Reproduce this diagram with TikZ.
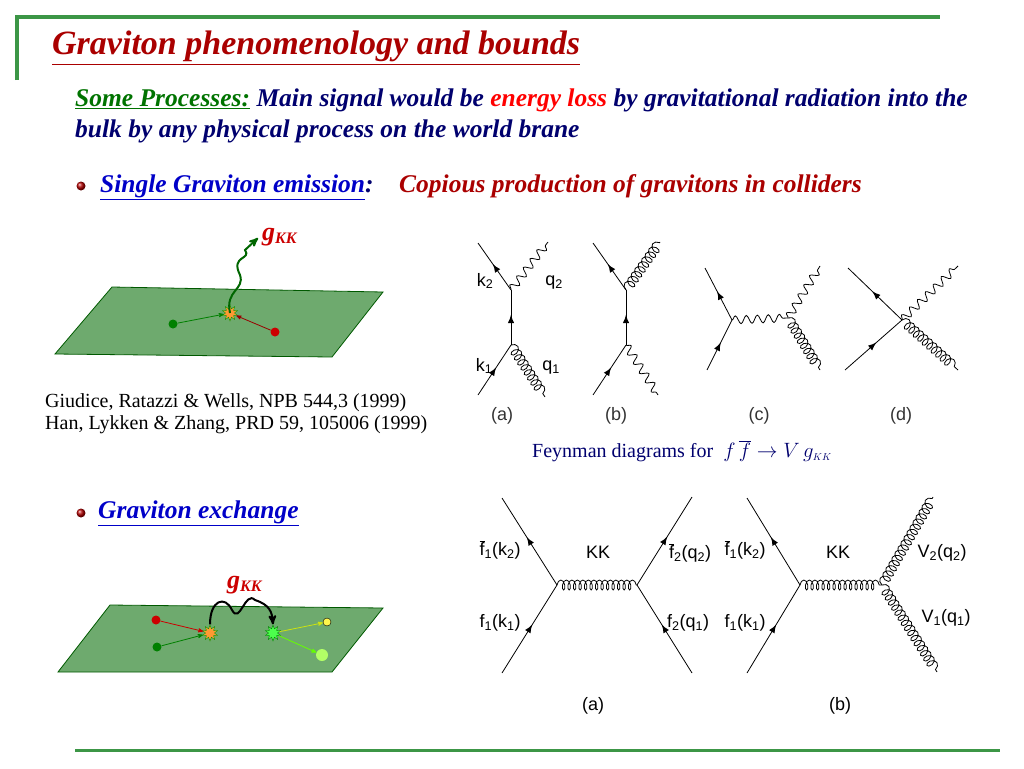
\documentclass[tikz,border=0pt]{standalone}
\usepackage{fontspec}
\setmainfont{Liberation Serif}
\setsansfont{Liberation Sans}
\usetikzlibrary{arrows,shapes.geometric,decorations.pathmorphing,decorations.markings}
\definecolor{titlered}{RGB}{170,0,0}
\definecolor{navy}{RGB}{0,0,110}
\definecolor{framegreen}{RGB}{60,150,70}
\definecolor{branegreen}{RGB}{110,170,110}
\definecolor{linkblue}{RGB}{0,0,200}
\newcommand{\ul}[1]{\underline{#1}}
\newcommand{\sub}[1]{\textsubscript{#1}}

\begin{document}
\begin{tikzpicture}[x=1pt,y=-1pt,
  every node/.style={inner sep=0pt,anchor=base west},
  body/.style={font=\fontsize{25.5}{30}\selectfont\bfseries\itshape,text=navy},
  fermion/.style={thick,postaction={decorate},decoration={markings,mark=at position .55 with {\arrow[scale=1.6]{latex}}}},
  photon/.style={thick,decorate,decoration={snake,amplitude=4pt,segment length=11pt}},
  gluon/.style={thick,decorate,decoration={coil,aspect=.7,amplitude=5pt,segment length=6pt}},
  kk/.style={thick,decorate,decoration={coil,aspect=.5,amplitude=5pt,segment length=5.5pt}},
  flabel/.style={font=\sffamily\fontsize{18}{20}\selectfont,anchor=center},
  brane/.style={draw=green!35!black,fill=branegreen,thick},
  burst/.style={star,star points=10,star point ratio=1.8,minimum size=16pt,anchor=center},
  dot/.style={circle,minimum size=9pt,anchor=center},
  tobrane/.style={->,>=stealth',thick}]

  \useasboundingbox (0,0) rectangle (1024,768);

  % frame lines
  \draw[framegreen,line width=4pt] (17,80) -- (17,17) -- (940,17);
  \draw[framegreen,line width=3pt] (75,750) -- (1000,750);

  % title and text
  \node[font=\fontsize{34}{38}\selectfont\bfseries\itshape,text=titlered] (title) at (52,55) {\ul{Graviton phenomenology and bounds}};
  \node[body] (line1) at (75,106) {\textcolor{green!45!black}{\ul{Some Processes:}} Main signal would be \textcolor{red}{energy loss} by gravitational radiation into the};
  \node[body] (line2) at (75,137) {bulk by any physical process on the world brane};
  \node[ball color=red!70!black,circle,minimum size=9pt,anchor=center] (b1) at (81,186) {};
  \node[body] (single) at (100,192) {\textcolor{linkblue}{\ul{Single Graviton emission}}:\quad\textcolor{titlered}{Copious production of gravitons in colliders}};
  \node[ball color=red!70!black,circle,minimum size=9pt,anchor=center] (b2) at (81,513) {};
  \node[body] (exch) at (98,518) {\textcolor{linkblue}{\ul{Graviton exchange}}};
  \node[font=\fontsize{20}{22}\selectfont] (ref1) at (45,407) {Giudice, Ratazzi \& Wells, NPB 544,3 (1999)};
  \node[font=\fontsize{20}{22}\selectfont] (ref2) at (45,429) {Han, Lykken \& Zhang, PRD 59, 105006 (1999)};

  % brane: single emission
  \draw[brane] (112,287) -- (383,292) -- (332,357) -- (55,354) -- cycle;
  \node[dot,fill=green!50!black] (s1) at (173,324) {};
  \node[dot,fill=red!80!black] (s2) at (275,332) {};
  \node[burst,fill=orange!80,draw=green!60!black] (v1) at (230,313) {};
  \draw[tobrane,green!50!black] (s1) -- (v1);
  \draw[tobrane,red!60!black] (s2) -- (v1);
  \coordinate (g1) at (258,238);
  \draw[tobrane,green!40!black,line width=2pt] (v1.center) .. controls (225,290) and (245,290) .. (240,275) .. controls (230,255) and (252,260) .. (245,250) -- (g1);
  \node[font=\fontsize{26}{28}\selectfont\bfseries\itshape,text=red!80!black] (gkk1) at (262,240) {g\raisebox{-3pt}{\fontsize{16}{16}\selectfont KK}};

  % brane: exchange
  \draw[brane] (110,605) -- (383,608) -- (332,672) -- (58,672) -- cycle;
  \node[dot,fill=red!80!black] (e1) at (156,620) {};
  \node[dot,fill=green!50!black] (e2) at (157,647) {};
  \node[burst,fill=orange!80,draw=green!60!black] (v2) at (210,633) {};
  \node[burst,fill=green!70!white,draw=green!50!black] (v3) at (273,633) {};
  \node[dot,fill=yellow!70,draw=black,minimum size=8pt] (e3) at (327,622) {};
  \node[dot,fill=green!50!yellow!60,minimum size=12pt] (e4) at (322,655) {};
  \draw[tobrane,red!80!black] (e1) -- (v2);
  \draw[tobrane,green!50!black] (e2) -- (v2);
  \draw[tobrane,yellow!80!green] (v3) -- (e3);
  \draw[tobrane,green!60!yellow] (v3) -- (e4);
  \draw[tobrane,black,line width=2pt] (v2.north) .. controls (210,600) and (225,595) .. (232,610) .. controls (240,625) and (245,590) .. (255,600) .. controls (270,605) and (272,612) .. (v3.north);
  \node[font=\fontsize{26}{28}\selectfont\bfseries\itshape,text=red!80!black] (gkk2) at (227,588) {g\raisebox{-3pt}{\fontsize{16}{16}\selectfont KK}};

  % Feynman diagrams, top row
  \foreach \dx/\tag in {0/a,115/b} {
    \coordinate (lo\tag) at (511+\dx,345);
    \coordinate (hi\tag) at (511+\dx,290);
    \coordinate (in\tag) at (478+\dx,395);
    \coordinate (out\tag) at (478+\dx,243);
    \draw[fermion] (in\tag) -- (lo\tag);
    \draw[fermion] (lo\tag) -- (hi\tag);
    \draw[fermion] (hi\tag) -- (out\tag);
  }
  \draw[photon] (hia) -- (548,242);
  \draw[gluon] (loa) -- (545,397);
  \draw[gluon] (hib) -- (660,242);
  \draw[photon] (lob) -- (658,395);
  \node[flabel] (k2) at (485,281) {k\sub{2}};
  \node[flabel] (q2) at (554,283) {q\sub{2}};
  \node[flabel] (k1) at (484,366) {k\sub{1}};
  \node[flabel] (q1) at (551,368) {q\sub{1}};

  \coordinate (vc1) at (732,320);
  \coordinate (vc2) at (788,318);
  \draw[fermion] (707,370) -- (vc1);
  \draw[fermion] (vc1) -- (705,268);
  \draw[photon] (vc1) -- (vc2);
  \draw[photon] (vc2) -- (820,266);
  \draw[gluon] (vc2) -- (820,370);

  \coordinate (vd) at (902,320);
  \draw[fermion] (845,370) -- (vd);
  \draw[fermion] (vd) -- (848,268);
  \draw[photon] (vd) -- (958,266);
  \draw[gluon] (vd) -- (958,370);

  \foreach \x/\tag in {502/a,616/b,759/c,901/d}
    \node[flabel,text=black!80] (cap\tag) at (\x,416) {(\tag)};
  \node[font=\fontsize{20}{22}\selectfont,text=navy] (fcap) at (532,457) {Feynman diagrams for \ $f\,\overline{f}\rightarrow V\,g_{\scriptscriptstyle KK}$};

  % Feynman diagrams, bottom row
  \coordinate (va) at (557,585);
  \coordinate (vb) at (637,585);
  \draw[fermion] (502,673) -- (va);
  \draw[fermion] (va) -- (502,498);
  \draw[kk] (va) -- (vb);
  \draw[fermion] (vb) -- (692,497);
  \draw[fermion] (692,673) -- (vb);
  \node[flabel] (fa1) at (500,550) {$\overline{\textsf{f}}$\sub{1}(k\sub{2})};
  \node[flabel] (kka) at (598,552) {KK};
  \node[flabel] (fa2) at (690,553) {$\overline{\textsf{f}}$\sub{2}(q\sub{2})};
  \node[flabel] (fa3) at (500,623) {f\sub{1}(k\sub{1})};
  \node[flabel] (fa4) at (688,623) {f\sub{2}(q\sub{1})};

  \coordinate (vbl) at (800,585);
  \coordinate (vbr) at (882,585);
  \draw[fermion] (747,673) -- (vbl);
  \draw[fermion] (vbl) -- (747,498);
  \draw[kk] (vbl) -- (vbr);
  \draw[gluon] (vbr) -- (933,497);
  \draw[gluon] (vbr) -- (937,672);
  \node[flabel] (fb1) at (745,550) {$\overline{\textsf{f}}$\sub{1}(k\sub{2})};
  \node[flabel] (kkb) at (838,552) {KK};
  \node[flabel] (vb2) at (942,553) {V\sub{2}(q\sub{2})};
  \node[flabel] (fb3) at (745,623) {f\sub{1}(k\sub{1})};
  \node[flabel] (vb1) at (946,618) {V\sub{1}(q\sub{1})};
  \node[flabel] (capA) at (593,706) {(a)};
  \node[flabel] (capB) at (840,706) {(b)};
\end{tikzpicture}
\end{document}
